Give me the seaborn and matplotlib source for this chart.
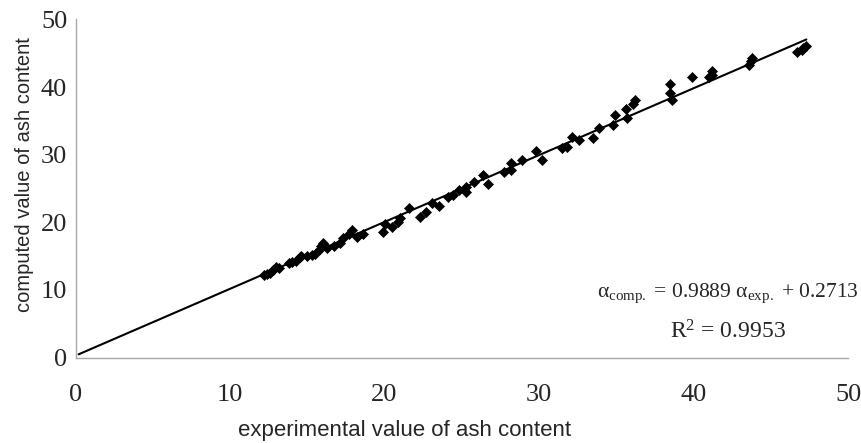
import numpy as np
import pandas as pd
import matplotlib.pyplot as plt
import seaborn as sns

# experimental vs computed ash content
exp_vals = [12.2, 12.4, 12.6, 12.8, 13.0, 13.2, 13.8, 14.0, 14.3, 14.5,
            14.6, 15.0, 15.3, 15.5, 15.8, 15.9, 16.0, 16.3, 16.7, 17.1,
            17.3, 17.7, 17.9, 18.2, 18.6, 19.9, 20.0, 20.5, 20.9, 21.0,
            21.6, 22.3, 22.7, 23.1, 23.5, 24.1, 24.4, 24.8, 25.3, 25.3,
            25.8, 26.4, 26.7, 27.7, 28.2, 28.2, 28.9, 29.8, 30.2, 31.5,
            31.8, 32.1, 32.6, 33.5, 33.9, 34.8, 34.9, 35.6, 35.7, 36.1,
            36.2, 38.5, 38.5, 38.6, 39.9, 41.0, 41.2, 41.2, 43.6, 43.7,
            43.8, 46.7, 47.0, 47.1, 47.3]
comp_vals = [12.2, 12.3, 12.5, 13.0, 13.4, 13.3, 14.0, 14.2, 14.3, 14.8,
             15.0, 15.0, 15.2, 15.3, 16.0, 16.5, 16.9, 16.2, 16.5, 16.9,
             17.7, 18.3, 18.9, 17.8, 18.2, 18.6, 19.8, 19.3, 20.0, 20.6,
             22.1, 20.8, 21.5, 22.8, 22.4, 23.7, 24.0, 24.8, 25.2, 24.5,
             26.0, 27.0, 25.6, 27.4, 28.8, 27.7, 29.2, 30.5, 29.2, 31.0,
             31.1, 32.6, 32.2, 32.5, 34.0, 34.4, 35.9, 36.8, 35.5, 37.5,
             38.1, 40.5, 39.1, 38.1, 41.5, 41.5, 41.8, 42.4, 43.3, 43.8,
             44.3, 45.2, 45.5, 45.8, 46.1]

slope, intercept = 0.9889, 0.2713
fit_range = [0.2, 47.3]

df = pd.DataFrame({'exp': exp_vals, 'comp': comp_vals})
fit_x = np.array(fit_range)
fit = pd.DataFrame({'x': fit_x, 'y': slope * fit_x + intercept})

sns.set_style('white')
plt.rcParams['mathtext.fontset'] = 'custom'
plt.rcParams['mathtext.rm'] = 'Liberation Serif'
plt.rcParams['mathtext.it'] = 'Liberation Serif'

fig, ax = plt.subplots(figsize=(8.61, 4.43), dpi=100)
fig.subplots_adjust(left=0.0877, right=0.985, bottom=0.193, top=0.956)

sns.lineplot(data=fit, x='x', y='y', color='black', linewidth=1.5, ax=ax)
sns.scatterplot(data=df, x='exp', y='comp', marker='D', s=26,
                color='black', edgecolor='black', linewidth=0.5, ax=ax)

ax.set_xlim(0, 50)
ax.set_ylim(0, 50)
ax.set_xticks(range(0, 51, 10))
ax.set_yticks(range(0, 51, 10))

for lab in ax.get_xticklabels() + ax.get_yticklabels():
    lab.set_fontfamily('Liberation Serif')
    lab.set_fontsize(19)

ax.tick_params(axis='both', direction='out', length=5, width=1, color='#a8a8a8')
ax.tick_params(axis='x', pad=14)
ax.tick_params(axis='y', pad=1)
for side in ['top', 'right']:
    ax.spines[side].set_visible(False)
for side in ['left', 'bottom']:
    ax.spines[side].set_color('#a8a8a8')
    ax.spines[side].set_linewidth(1)

ax.set_xlabel('experimental value of ash content', fontfamily='Liberation Sans', fontsize=16)
ax.set_ylabel('computed value of ash content', fontfamily='Liberation Sans', fontsize=14.5)
ax.xaxis.label.set_va('center')
ax.yaxis.label.set_va('center')
ax.xaxis.set_label_coords(0.4265, -0.2145)
ax.yaxis.set_label_coords(-0.066, 0.54)

ax.text(42.2, 9.5, r'α$_{\mathrm{comp.}}$ = 0.9889 α$_{\mathrm{exp.}}$ + 0.2713',
        ha='center', va='center', fontsize=15.5, fontfamily='Liberation Serif', clip_on=False)
ax.text(42.2, 3.8, r'R$^{2}$ = 0.9953', ha='center', va='center', fontsize=17,
        fontfamily='Liberation Serif')

fig.savefig('out.png', dpi=100)
